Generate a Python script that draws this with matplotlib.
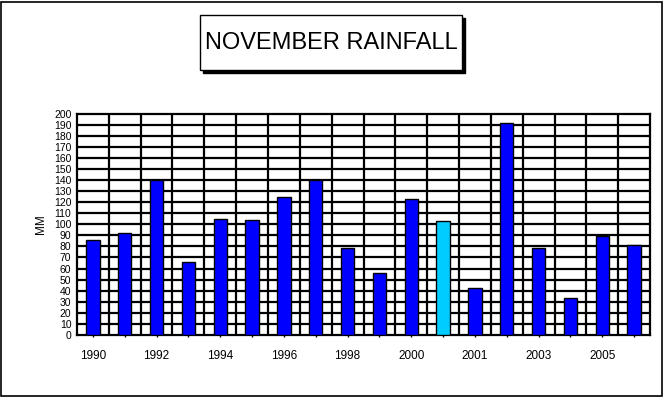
import matplotlib.pyplot as plt
from matplotlib.patches import Rectangle
import numpy as np

# November rainfall (mm), one bar per year; the light one is the highlighted bar
years = ['1990', '1991', '1992', '1993', '1994', '1995', '1996', '1997', '1998',
         '1999', '2000', 'AVG', '2001', '2002', '2003', '2004', '2005', '2006']
rain = [86, 92, 140, 66, 105, 104, 125, 140, 79, 56, 123, 103, 42, 191, 79, 33, 89, 81]
highlight = 'AVG'
shown_labels = ['1990', '1992', '1994', '1996', '1998', '2000', '2001', '2003', '2005']

plt.rcParams['font.family'] = ['Liberation Sans', 'DejaVu Sans']

fig = plt.figure(figsize=(6.66, 3.98), dpi=100)
ax = fig.add_axes([0.1156, 0.1583, 0.8604, 0.5565])

x = np.arange(len(years))
cols = ['#00CCFF' if y == highlight else '#0000FF' for y in years]
ax.bar(x, rain, width=0.42, color=cols, edgecolor='black', linewidth=1, zorder=3)

# heavy grid: every 10 mm and between each year
for v in range(10, 200, 10):
    ax.axhline(v, color='black', lw=1.6, zorder=1)
for b in x[:-1] + 0.5:
    ax.axvline(b, color='black', lw=1.6, zorder=1)

ax.set_xlim(-0.5, len(years) - 0.5)
ax.set_ylim(0, 200)
ax.set_yticks(range(0, 201, 10))
ax.tick_params(axis='y', length=0, labelsize=7.5, pad=4)
ax.set_xticks(x)
ax.set_xticklabels([y if y in shown_labels else '' for y in years], fontsize=8.5)
ax.tick_params(axis='x', length=3, width=1, direction='inout', pad=9)
for s in ax.spines.values():
    s.set_linewidth(1.6)
ax.set_ylabel('MM', fontsize=8.5, labelpad=5)

# outer frame
fig.patches.append(Rectangle((0.002, 0.004), 0.992, 0.992, transform=fig.transFigure,
                             fill=False, edgecolor='black', lw=1.2))

# title box with drop shadow
bx, by, bw, bh = 0.3003, 0.8241, 0.3934, 0.1382
fig.patches.append(Rectangle((bx + 0.0045, by - 0.0075), bw, bh, transform=fig.transFigure,
                             facecolor='black', edgecolor='black', lw=1))
fig.patches.append(Rectangle((bx, by), bw, bh, transform=fig.transFigure,
                             facecolor='white', edgecolor='black', lw=1))
fig.text(bx + bw / 2, by + bh / 2, 'NOVEMBER RAINFALL', fontsize=17,
         ha='center', va='center')

fig.savefig('out.png', dpi=100)
